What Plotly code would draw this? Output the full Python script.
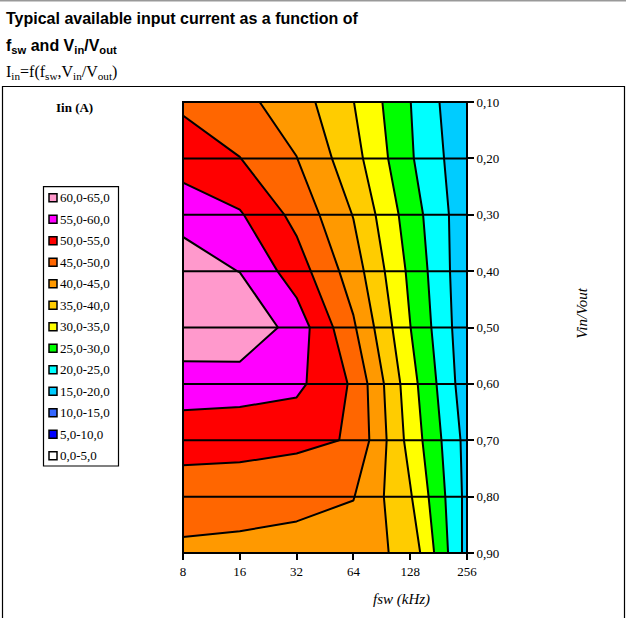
import plotly.graph_objects as go

# Switching frequency (kHz) and input/output voltage ratio grid
fsw = [8, 16, 32, 64, 128, 256]
vin_vout = [0.10, 0.20, 0.30, 0.40, 0.50, 0.60, 0.70, 0.80, 0.90]

# Available input current Iin (A), one row per Vin/Vout value, one column per fsw
iin = [
    [49.3, 46.4, 42.4, 35.1, 25.1, 15.2],
    [52.2, 50.1, 45.1, 36.9, 25.6, 16.2],
    [58.7, 55.5, 48.5, 39.8, 27.5, 16.5],
    [62.0, 59.9, 52.5, 42.5, 28.9, 16.2],
    [63.0, 64.5, 57.8, 45.7, 30.1, 16.4],
    [58.0, 57.1, 56.2, 49.3, 32.0, 16.9],
    [51.6, 52.0, 51.2, 49.6, 33.2, 18.3],
    [48.0, 46.9, 46.1, 45.2, 35.5, 18.5],
    [43.8, 43.8, 43.6, 42.3, 38.6, 18.2],
]

# Current bands (A) and their fill colours, lowest band first
band_edges = [0, 5, 10, 15, 20, 25, 30, 35, 40, 45, 50, 55, 60, 65]
band_colors = [
    "#FFFFFF", "#0000FF", "#3366FF", "#00CCFF", "#00FFFF", "#00FF00", "#FFFF00",
    "#FFCC00", "#FF9900", "#FF6600", "#FF0000", "#FF00FF", "#FF99CC",
]

W_FIG, H_FIG = 626, 618
L, R, T, B = 183, 159, 102, 65
PW, PH = W_FIG - L - R, H_FIG - T - B
LW = 2.0


def px(x):
    return (x - L) / PW


def py(y):
    return (H_FIG - B - y) / PH


SERIF = "Liberation Serif"
SANS = "Liberation Sans"

n = len(band_colors)
colorscale = [[k / (n - 1), c] for k, c in enumerate(band_colors)]
cats = [str(f) for f in fsw]

fig = go.Figure()
fig.add_trace(go.Contour(
    x=cats,
    y=vin_vout,
    z=iin,
    colorscale=colorscale,
    autocontour=False,
    contours=dict(start=band_edges[1], end=band_edges[-2], size=5, coloring="fill", showlines=True),
    line=dict(color="black", width=LW, smoothing=0),
    showscale=False,
    hoverinfo="skip",
))

shapes = []
# grid lines drawn over the filled contours
for c in cats[1:-1]:
    shapes.append(dict(type="line", xref="x", yref="paper", x0=c, x1=c, y0=0, y1=1,
                       line=dict(color="black", width=LW), layer="above"))
for v in vin_vout[1:-1]:
    shapes.append(dict(type="line", xref="paper", yref="y", x0=0, x1=1, y0=v, y1=v,
                       line=dict(color="black", width=LW), layer="above"))
# plot area border
shapes.append(dict(type="rect", xref="paper", yref="paper", x0=0, x1=1, y0=0, y1=1,
                   line=dict(color="black", width=LW), layer="above"))

# outer chart frame and top rule
shapes.append(dict(type="rect", xref="paper", yref="paper",
                   x0=px(2.5), x1=px(624.5), y0=py(622), y1=py(86.5),
                   line=dict(color="black", width=1.2)))
shapes.append(dict(type="line", xref="paper", yref="paper",
                   x0=px(0), x1=px(626), y0=py(0.7), y1=py(0.7),
                   line=dict(color="#999999", width=1.5)))

annotations = []
# legend box
lg_top, lg_step = 197.7, 21.5
shapes.append(dict(type="rect", xref="paper", yref="paper",
                   x0=px(43.5), x1=px(118.5), y0=py(466), y1=py(186.7),
                   line=dict(color="black", width=1.2)))
for i in range(n):
    k = n - 1 - i
    lo, hi = band_edges[k], band_edges[k + 1]
    yc = lg_top + lg_step * i
    shapes.append(dict(type="rect", xref="paper", yref="paper",
                       x0=px(49), x1=px(57), y0=py(yc + 4), y1=py(yc - 4),
                       fillcolor=band_colors[k], line=dict(color="black", width=1.5)))
    label = f"{lo:.1f}-{hi:.1f}".replace(".", ",")
    annotations.append(dict(xref="paper", yref="paper", x=px(58.5), y=py(yc),
                            xanchor="left", yanchor="middle", showarrow=False,
                            text=label, font=dict(family=SERIF, size=13, color="black")))

annotations.append(dict(xref="paper", yref="paper", x=px(74), y=py(107),
                        xanchor="center", yanchor="middle", showarrow=False,
                        text="<b>Iin (A)</b>", font=dict(family=SERIF, size=13, color="black")))

# titles
annotations.append(dict(xref="paper", yref="paper", x=px(4), y=py(18.5),
                        xanchor="left", yanchor="middle", showarrow=False,
                        text="<b>Typical available input current as a function of</b>",
                        font=dict(family=SANS, size=16, color="black")))
annotations.append(dict(xref="paper", yref="paper", x=px(4), y=py(47),
                        xanchor="left", yanchor="middle", showarrow=False,
                        text="<b>f<sub>sw</sub> and V<sub>in</sub>/V<sub>out</sub></b>",
                        font=dict(family=SANS, size=16, color="black")))
annotations.append(dict(xref="paper", yref="paper", x=px(4), y=py(72),
                        xanchor="left", yanchor="middle", showarrow=False,
                        text="I<sub>in</sub>=f(f<sub>sw</sub>,V<sub>in</sub>/V<sub>out</sub>)",
                        font=dict(family=SERIF, size=16, color="black")))

# axis titles
annotations.append(dict(xref="paper", yref="paper", x=px(401.7), y=py(599),
                        xanchor="center", yanchor="middle", showarrow=False,
                        text="<i>fsw (kHz)</i>", font=dict(family=SERIF, size=15, color="black")))
annotations.append(dict(xref="paper", yref="paper", x=px(581.7), y=py(313),
                        xanchor="center", yanchor="middle", showarrow=False, textangle=-90,
                        text="<i>Vin/Vout</i>", font=dict(family=SERIF, size=15, color="black")))

fig.update_layout(
    width=W_FIG, height=H_FIG,
    margin=dict(l=L, r=R, t=T, b=B, pad=0),
    paper_bgcolor="white", plot_bgcolor="white",
    separators=", ",
    showlegend=False,
    shapes=shapes,
    annotations=annotations,
    xaxis=dict(type="category", range=[0, len(cats) - 1], showgrid=False, zeroline=False,
               ticks="outside", ticklen=6, tickwidth=LW, tickcolor="black",
               tickfont=dict(family=SERIF, size=13, color="black"), fixedrange=True),
    yaxis=dict(range=[vin_vout[-1], vin_vout[0]], side="right", showgrid=False, zeroline=False,
               tickvals=vin_vout, tickformat=".2f",
               ticks="outside", ticklen=6, tickwidth=LW, tickcolor="black",
               tickfont=dict(family=SERIF, size=13, color="black"), fixedrange=True),
)

fig.write_html("out.html")
